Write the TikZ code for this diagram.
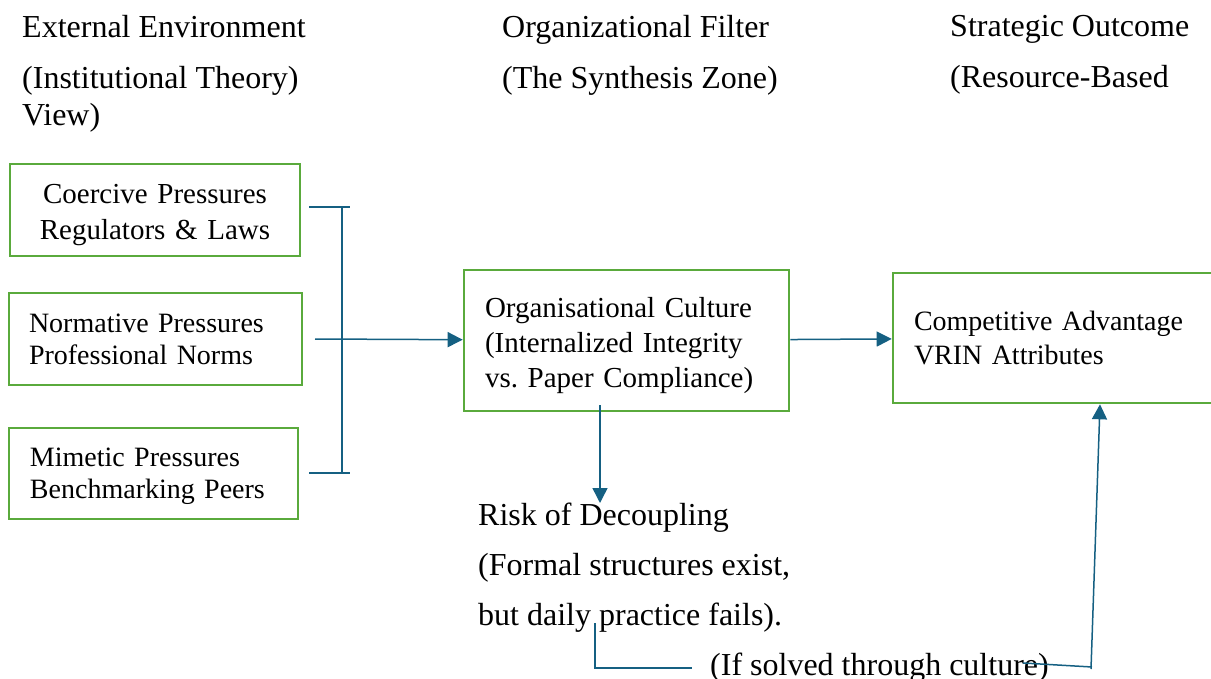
\documentclass[tikz,border=0pt]{standalone}
\usepackage{fontspec}
\setmainfont{Liberation Serif}
\usepackage{xcolor}
\usepackage{tikz}
\usetikzlibrary{arrows.meta}

\definecolor{boxgreen}{HTML}{5AAA3C}
\definecolor{lineblue}{HTML}{156082}

\frenchspacing

\begin{document}
\begin{tikzpicture}[x=1pt,y=-1pt,
    box/.style={draw=boxgreen,line width=2.6pt,rectangle,inner sep=0pt},
    heading/.style={anchor=north west,inner sep=0pt,align=left,font=\fontsize{32}{37}\selectfont},
    link/.style={draw=lineblue,line width=1.5pt},
    flow/.style={link,-{Triangle[length=15pt,width=15pt]}}]
    %
    \useasboundingbox (0,0) rectangle (1211,679);
    %
    \node[heading] (hEnv) at (22,15) {External Environment\\[14pt](Institutional Theory)\\View)};
    \node[heading] (hFilter) at (502,15) {Organizational Filter\\[14pt](The Synthesis Zone)};
    \node[heading] (hOutcome) at (950,15) {Strategic Outcome\\[14pt](Resource-Based};
    %
    \node[box,minimum width=290pt,minimum height=92pt,text width=250pt,align=center,text height=30pt,
        font=\fontsize{29}{36}\selectfont] (coercive) at (155,210)
        {Coercive Pressures\\Regulators \& Laws};
    \node[box,minimum width=293pt,minimum height=92pt,text width=253pt,align=left,
        font=\fontsize{28}{32}\selectfont] (normative) at (155.5,339)
        {Normative Pressures\\Professional Norms};
    \node[box,minimum width=289pt,minimum height=91pt,text width=247pt,align=left,text height=25pt,
        font=\fontsize{28}{32}\selectfont] (mimetic) at (153.5,473.5)
        {Mimetic Pressures\\Benchmarking Peers};
    %
    \node[box,minimum width=325pt,minimum height=141pt,text width=283pt,align=left,text height=30pt,
        font=\fontsize{29}{35}\selectfont] (culture) at (626.5,340.5)
        {Organisational Culture\\(Internalized Integrity\\vs. Paper Compliance)};
    \node[box,minimum width=323pt,minimum height=130pt,text width=281pt,align=left,
        font=\fontsize{28}{34}\selectfont] (advantage) at (1054.5,338)
        {Competitive Advantage\\VRIN Attributes};
    %
    \node[heading,font=\fontsize{32}{50}\selectfont] (risk) at (478,503)
        {Risk of Decoupling\\(Formal structures exist,\\but daily practice fails).};
    \node[anchor=base west,inner sep=0pt,font=\fontsize{32}{37}\selectfont] (solved) at (710,675)
        {(If solved through culture)};
    %
    \coordinate (brTop) at (342,207);
    \coordinate (brBot) at (342,473);
    \coordinate (brOut) at (315,339);
    \coordinate (dnTop) at (600,405);
    \coordinate (loopA) at (595,623);
    \coordinate (loopB) at (692,668);
    \coordinate (loopC) at (1023,663);
    \coordinate (loopD) at (1092,667);
    \coordinate (loopE) at (1091,669);
    %
    \draw[link] ([xshift=-33pt]brTop) -- ([xshift=8pt]brTop);
    \draw[link] ([xshift=-33pt]brBot) -- ([xshift=8pt]brBot);
    \draw[link] (brTop) -- (brBot);
    \draw[flow] (brOut) -- (culture);
    \draw[flow] (culture) -- (advantage);
    \draw[flow] (dnTop) -- (dnTop |- risk.north);
    %
    \draw[link] (loopA) |- (loopB);
    \draw[link] (loopC) -- (loopD);
    \draw[flow] (loopE) -- ([xshift=45.5pt]advantage.south);
    %
\end{tikzpicture}
\end{document}
